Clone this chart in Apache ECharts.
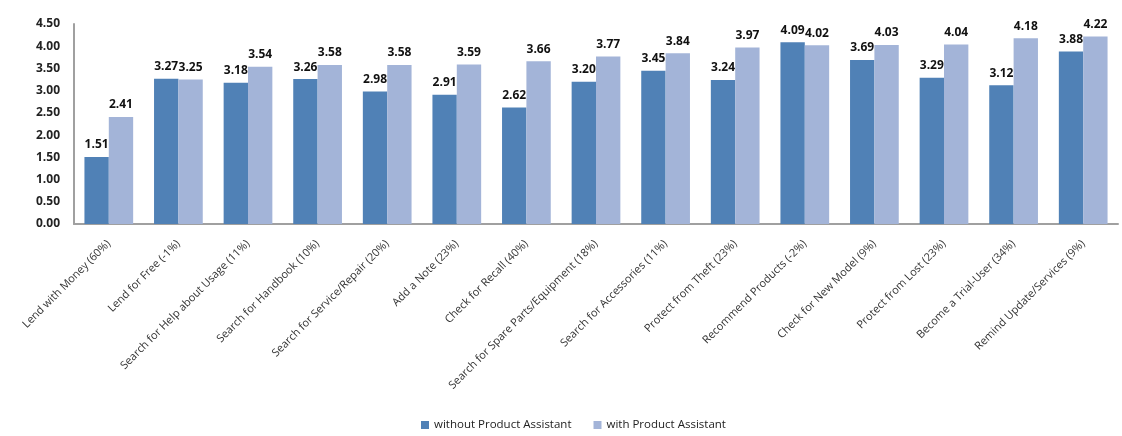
<!DOCTYPE html>
<html>
<head>
<meta charset="utf-8">
<script src="https://cdn.jsdelivr.net/npm/echarts@6/dist/echarts.min.js"></script>
<style>
  html, body { margin: 0; padding: 0; background: #fff; }
  #chart { width: 1122px; height: 436px; }
</style>
</head>
<body>
<div id="chart"></div>
<script>
const categories = [
  'Lend with Money (60%)', 'Lend for Free (-1%)', 'Search for Help about Usage (11%)',
  'Search for Handbook (10%)', 'Search for Service/Repair (20%)', 'Add a Note (23%)',
  'Check for Recall (40%)', 'Search for Spare Parts/Equipment (18%)', 'Search for Accessories (11%)',
  'Protect from Theft (23%)', 'Recommend Products (-2%)', 'Check for New Model (9%)',
  'Protect from Lost (23%)', 'Become a Trial-User (34%)', 'Remind Update/Services (9%)'
];
const withoutAssistant = [1.51, 3.27, 3.18, 3.26, 2.98, 2.91, 2.62, 3.20, 3.45, 3.24, 4.09, 3.69, 3.29, 3.12, 3.88];
const withAssistant = [2.41, 3.25, 3.54, 3.58, 3.58, 3.59, 3.66, 3.77, 3.84, 3.97, 4.02, 4.03, 4.04, 4.18, 4.22];

const chart = echarts.init(document.getElementById('chart'), null, { renderer: 'canvas' });

const labelStyle = {
  show: true,
  position: 'top',
  distance: 6,
  color: '#111',
  fontSize: 12,
  fontWeight: 'bold',
  fontFamily: 'Open Sans',
  formatter: p => p.value.toFixed(2)
};

chart.setOption({
  animation: false,
  textStyle: { fontFamily: 'Open Sans' },
  grid: { left: 74, right: 4, top: 24, bottom: 212 },
  legend: {
    bottom: 0,
    left: 416,
    itemWidth: 8,
    itemHeight: 8,
    itemGap: 22,
    icon: 'rect',
    textStyle: { fontSize: 11.5, color: '#222' },
    data: ['without Product Assistant', 'with Product Assistant']
  },
  xAxis: {
    type: 'category',
    data: categories,
    axisLine: { lineStyle: { color: '#a0a0a0', width: 2 } },
    axisTick: { show: false },
    axisLabel: { interval: 0, rotate: 45, fontSize: 11, color: '#333', margin: 18 }
  },
  yAxis: {
    type: 'value',
    min: 0,
    max: 4.5,
    interval: 0.5,
    splitLine: { show: false },
    axisLine: { show: true, lineStyle: { color: '#a0a0a0', width: 2 } },
    axisTick: { show: false },
    axisLabel: { formatter: v => v.toFixed(2), fontSize: 12, fontWeight: 'bold', color: '#222', margin: 14 }
  },
  series: [
    {
      name: 'without Product Assistant',
      type: 'bar',
      data: withoutAssistant,
      barGap: '0%',
      barCategoryGap: '30%',
      itemStyle: { color: '#5081b6' },
      label: labelStyle
    },
    {
      name: 'with Product Assistant',
      type: 'bar',
      data: withAssistant,
      itemStyle: { color: '#a3b4d8' },
      label: labelStyle
    }
  ]
});
</script>
</body>
</html>
